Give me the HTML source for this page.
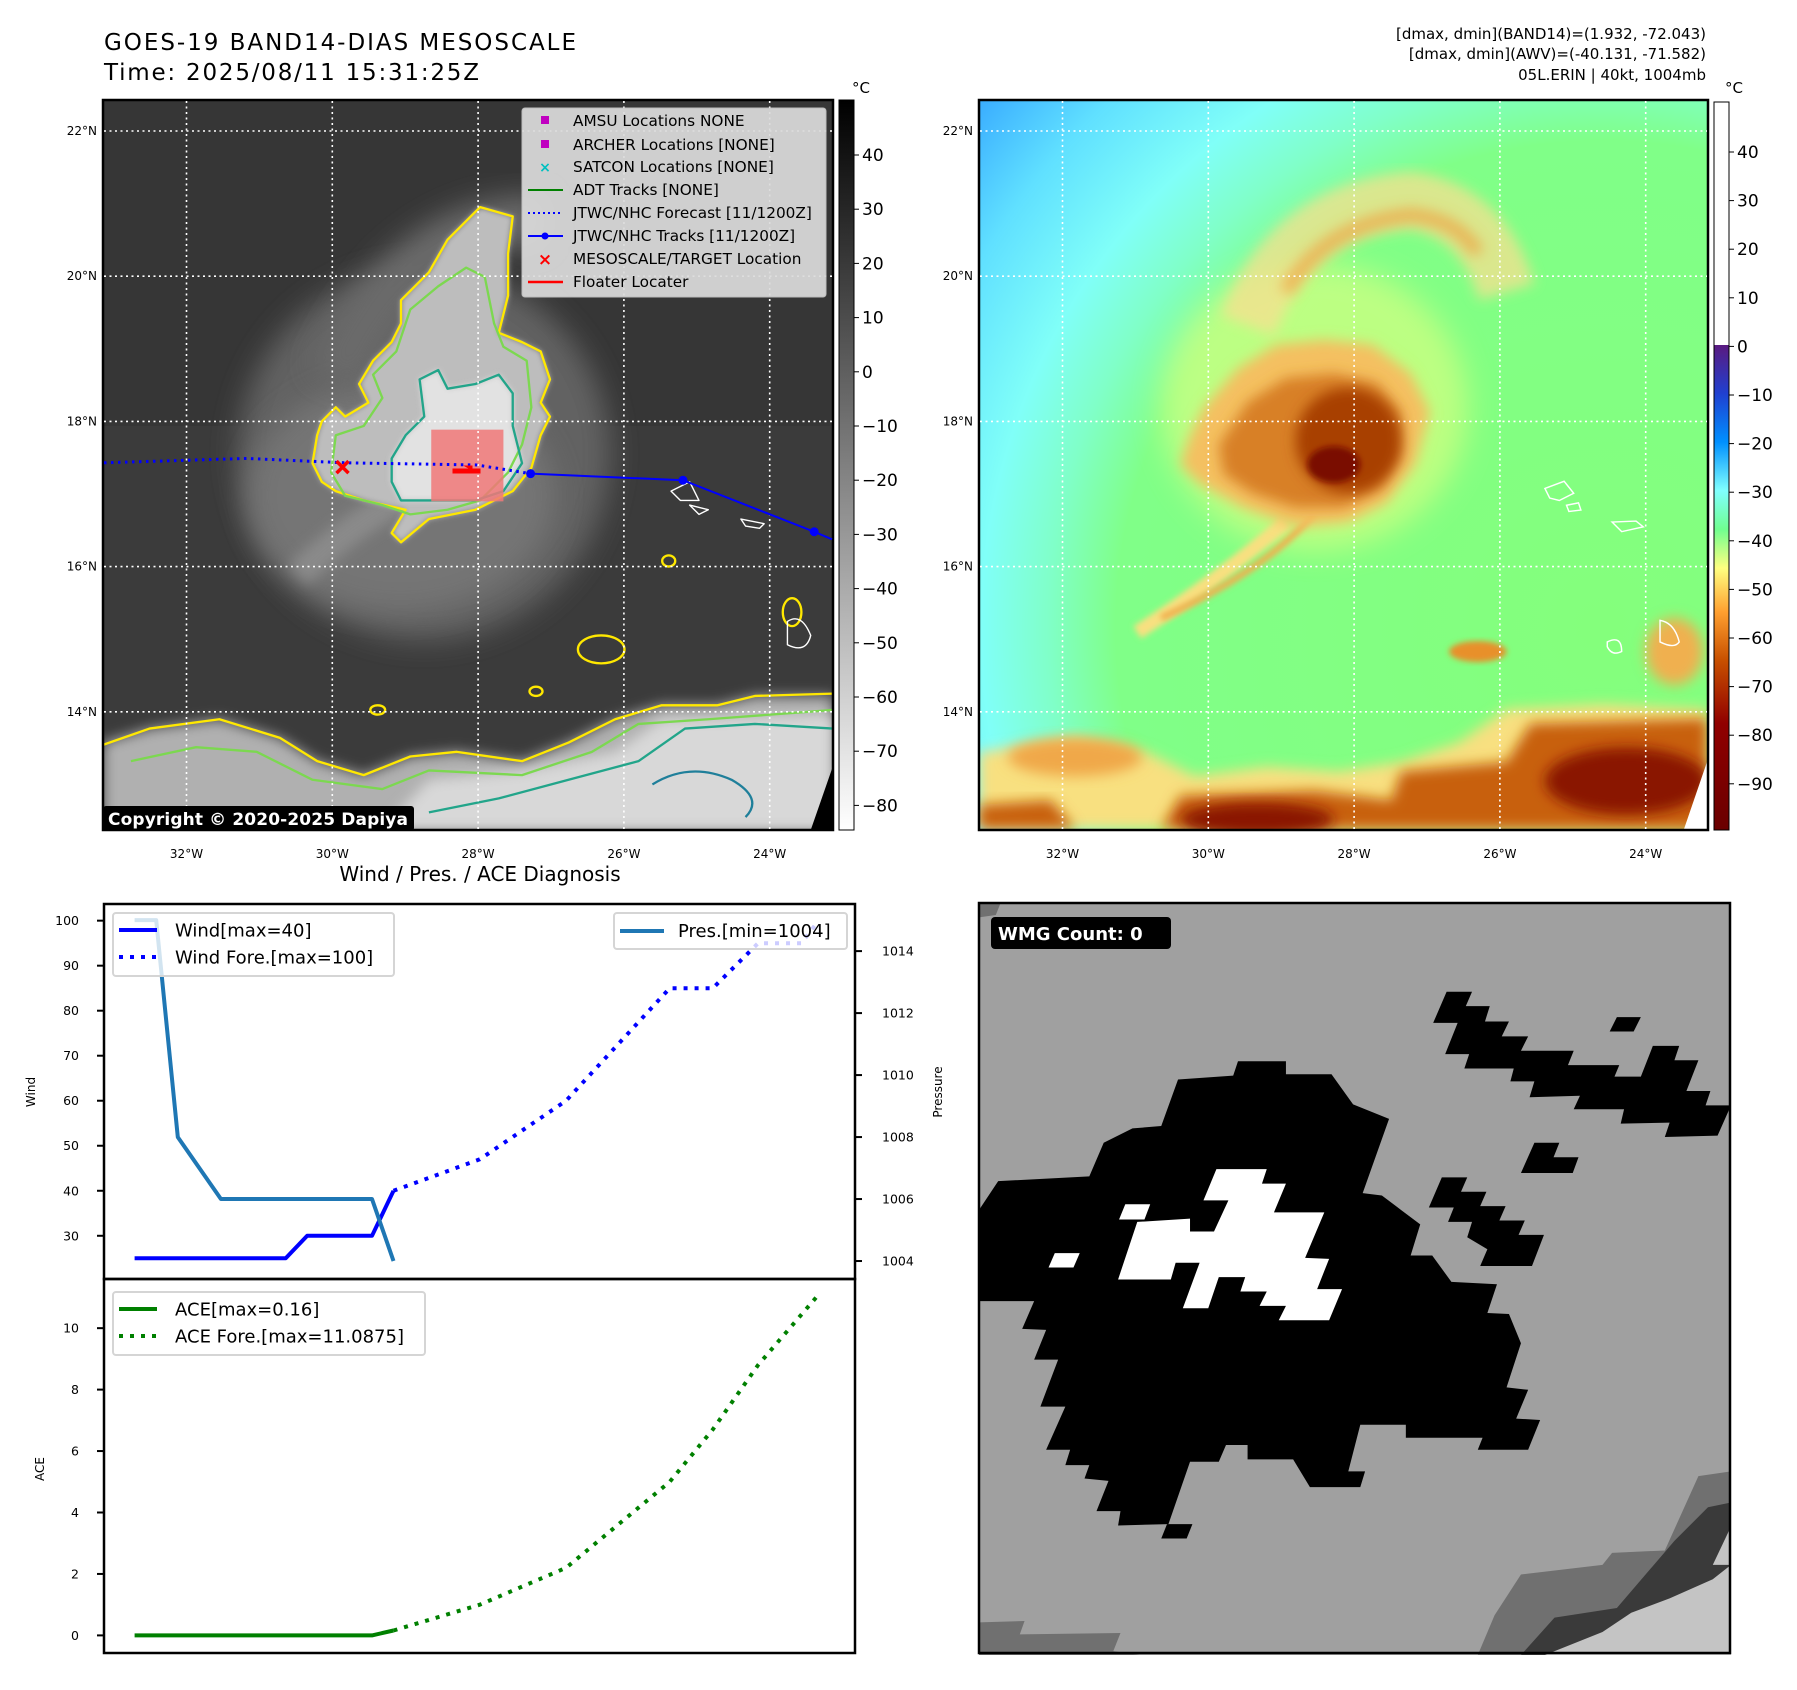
<!DOCTYPE html>
<html><head><meta charset="utf-8">
<style>
html,body{margin:0;padding:0;background:#fff;}
svg{display:block;font-family:"DejaVu Sans","Liberation Sans",sans-serif;}
</style></head>
<body>
<svg id="fig" width="1797" height="1690" viewBox="0 0 1797 1690" xmlns="http://www.w3.org/2000/svg">
<defs>
  <filter id="b6" x="-20%" y="-20%" width="140%" height="140%"><feGaussianBlur stdDeviation="6"/></filter>
  <filter id="b12" x="-30%" y="-30%" width="160%" height="160%"><feGaussianBlur stdDeviation="14"/></filter>
  <filter id="b25" x="-30%" y="-30%" width="160%" height="160%"><feGaussianBlur stdDeviation="30"/></filter>
  <clipPath id="clipL"><rect x="0" y="0" width="1568" height="1568"/></clipPath>
  <clipPath id="clipR"><rect x="0" y="0" width="1518" height="1520"/></clipPath>
  <clipPath id="clipW"><rect x="0" y="0" width="1568" height="1568"/></clipPath>
  <radialGradient id="bgR" gradientUnits="userSpaceOnUse" cx="1300" cy="1100" r="1750">
    <stop offset="0" stop-color="#84ff7c"/>
    <stop offset="0.58" stop-color="#80ff88"/>
    <stop offset="0.66" stop-color="#80ffc8"/>
    <stop offset="0.74" stop-color="#80fff8"/>
    <stop offset="0.86" stop-color="#60e0ff"/>
    <stop offset="1" stop-color="#30a0ff"/>
  </radialGradient>
  <linearGradient id="cbL" x1="0" y1="0" x2="0" y2="1">
    <stop offset="0" stop-color="#000"/><stop offset="1" stop-color="#fff"/>
  </linearGradient>
  <linearGradient id="cbR" x1="0" y1="0" x2="0" y2="1">
    <stop offset="0" stop-color="#5a1a80"/>
    <stop offset="0.1" stop-color="#2040d0"/>
    <stop offset="0.2" stop-color="#0090ff"/>
    <stop offset="0.3" stop-color="#80ffff"/>
    <stop offset="0.38" stop-color="#70ff90"/>
    <stop offset="0.46" stop-color="#ffff80"/>
    <stop offset="0.55" stop-color="#ffa030"/>
    <stop offset="0.65" stop-color="#c85000"/>
    <stop offset="0.78" stop-color="#900000"/>
    <stop offset="1" stop-color="#6a0000"/>
  </linearGradient>
</defs>

<!-- Titles -->
<text x="104" y="50" font-size="23" textLength="472">GOES-19 BAND14-DIAS MESOSCALE</text>
<text x="104" y="80" font-size="23" textLength="375">Time: 2025/08/11 15:31:25Z</text>
<text x="1706" y="39" font-size="15" text-anchor="end">[dmax, dmin](BAND14)=(1.932, -72.043)</text>
<text x="1706" y="59" font-size="15" text-anchor="end">[dmax, dmin](AWV)=(-40.131, -71.582)</text>
<text x="1706" y="80" font-size="15" text-anchor="end">05L.ERIN | 40kt, 1004mb</text>

<!-- LEFT MAP -->
<g>
<g transform="translate(103,100) scale(0.4656)" clip-path="url(#clipL)">
  <rect x="0" y="0" width="1568" height="1568" fill="#3b3b3b"/>
  <rect x="0" y="0" width="1568" height="700" fill="#363636"/>
  <ellipse cx="690" cy="760" rx="400" ry="400" fill="#626262" filter="url(#b25)"/>
  <ellipse cx="640" cy="850" rx="330" ry="250" fill="#747474" filter="url(#b25)"/>
  <path d="M420 1020 Q560 880 760 800" stroke="#8a8a8a" stroke-width="60" fill="none" filter="url(#b12)"/>
  <path d="M500 600 Q650 250 950 260" stroke="#6a6a6a" stroke-width="110" fill="none" filter="url(#b25)"/>
  <polygon points="0,1568 0,1380 100,1350 250,1330 380,1370 460,1420 560,1450 660,1410 760,1400 900,1420 1000,1380 1100,1330 1200,1300 1320,1300 1400,1280 1568,1280 1568,1568" fill="#b0b0b0" filter="url(#b12)"/>
  <polygon points="600,1568 700,1460 900,1440 1100,1400 1200,1330 1568,1320 1568,1568" fill="#d8d8d8" filter="url(#b12)"/>
  <polygon points="640,430 700,370 740,300 810,230 880,250 870,330 870,420 850,500 900,520 940,540 960,600 940,650 960,680 940,720 920,790 880,840 800,880 700,900 640,950 620,930 650,880 560,860 500,840 470,820 450,780 460,720 470,690 500,660 520,680 570,650 550,610 580,560 620,520 640,480" fill="#bdbdbd" filter="url(#b6)"/>
  <polygon points="680,600 720,580 740,620 800,610 850,590 880,630 880,700 900,780 860,840 800,860 700,860 640,860 620,820 620,770 650,720 690,680" fill="#e2e2e2" filter="url(#b6)"/>
  <g fill="none" stroke-width="5" stroke-linejoin="round">
    <polygon points="640,430 700,370 740,300 810,230 880,250 870,330 870,420 850,500 900,520 940,540 960,600 940,650 960,680 940,720 920,790 880,840 800,880 700,900 640,950 620,930 650,880 560,860 500,840 470,820 450,780 460,720 470,690 500,660 520,680 570,650 550,610 580,560 620,520 640,480" stroke="#ffe800"/>
    <polygon points="660,450 720,400 780,360 820,380 840,480 860,530 910,560 920,660 900,740 870,800 810,860 740,880 660,890 600,870 520,850 490,800 500,720 560,700 600,640 580,590 630,540" stroke="#7cd850"/>
    <polygon points="680,600 720,580 740,620 800,610 850,590 880,630 880,700 900,780 860,840 800,860 700,860 640,860 620,820 620,770 650,720 690,680" stroke="#22a58a"/>
    <path d="M0 1385 L100 1350 L250 1330 L380 1370 L460 1420 L560 1450 L660 1410 L760 1400 L900 1420 L1000 1380 L1100 1330 L1200 1300 L1320 1300 L1400 1280 L1568 1275" stroke="#ffe800"/>
    <path d="M60 1420 L200 1390 L330 1400 L450 1460 L600 1480 L700 1440 L900 1450 L1050 1400 L1150 1340 L1300 1330 L1568 1310" stroke="#7cd850"/>
    <path d="M700 1530 L850 1500 L1000 1460 L1150 1420 L1250 1350 L1400 1340 L1568 1350" stroke="#22a58a"/>
    <path d="M1180 1470 Q1260 1420 1350 1460 Q1420 1500 1380 1540" stroke="#1f7f9a"/>
    <ellipse cx="1070" cy="1180" rx="50" ry="30" stroke="#ffe800"/>
    <ellipse cx="1215" cy="990" rx="14" ry="12" stroke="#ffe800"/>
    <ellipse cx="930" cy="1270" rx="14" ry="10" stroke="#ffe800"/>
    <ellipse cx="590" cy="1310" rx="16" ry="10" stroke="#ffe800"/>
    <ellipse cx="1480" cy="1100" rx="20" ry="30" stroke="#ffe800"/>
    <path d="M1220 840 L1260 820 L1280 860 L1240 860 Z M1260 870 L1300 880 L1280 890 Z M1370 900 L1420 910 L1410 920 L1380 915 Z" stroke="#ffffff" stroke-width="3"/>
    <path d="M1470 1120 Q1500 1100 1520 1150 Q1510 1190 1470 1170 Z" stroke="#ffffff" stroke-width="3"/>
  </g>
  <polygon points="1520,1568 1568,1430 1568,1568" fill="#000"/>
  <rect x="705" y="708" width="155" height="154" fill="#f07878" opacity="0.85"/>
</g>
<rect x="103" y="100" width="730" height="730" fill="none" stroke="#000" stroke-width="2.5"/>
</g>
<g id="gridL" stroke="#fff" stroke-width="1.6" stroke-dasharray="2 3.5"></g>
<g id="trackL"></g>
<rect x="103" y="806" width="311" height="25" rx="3" fill="#000"/>
<text x="108" y="825" font-size="17" font-weight="bold" fill="#fff" textLength="300">Copyright © 2020-2025 Dapiya</text>

<!-- Map legend -->
<g>
  <rect x="522" y="108" width="304" height="189" rx="3" fill="#dcdcdc" opacity="0.92" stroke="#c8c8c8"/>
  <g font-size="15.3" fill="#000">
    <rect x="541" y="116" width="8" height="8" fill="#c000c0"/><text x="573" y="126">AMSU Locations NONE</text>
    <rect x="541" y="140" width="8" height="8" fill="#c000c0"/><text x="573" y="150">ARCHER Locations [NONE]</text>
    <text x="545" y="172" font-size="14" fill="#00c0c0" text-anchor="middle" font-weight="bold">×</text><text x="573" y="172">SATCON Locations [NONE]</text>
    <line x1="528" y1="190" x2="563" y2="190" stroke="#008000" stroke-width="2"/><text x="573" y="195">ADT Tracks [NONE]</text>
    <line x1="528" y1="213" x2="563" y2="213" stroke="#0000ff" stroke-width="2" stroke-dasharray="2 3"/><text x="573" y="218">JTWC/NHC Forecast [11/1200Z]</text>
    <line x1="528" y1="236" x2="563" y2="236" stroke="#0000ff" stroke-width="2"/><circle cx="545" cy="236" r="3.5" fill="#0000ff"/><text x="573" y="241">JTWC/NHC Tracks [11/1200Z]</text>
    <text x="545" y="265" font-size="17" fill="#ff0000" text-anchor="middle" font-weight="bold">×</text><text x="573" y="264">MESOSCALE/TARGET Location</text>
    <line x1="528" y1="282" x2="563" y2="282" stroke="#ff0000" stroke-width="2.5"/><text x="573" y="287">Floater Locater</text>
  </g>
</g>

<!-- Left colorbar -->
<rect x="839" y="100" width="15" height="730" fill="url(#cbL)" stroke="#000" stroke-width="1"/>
<text x="852" y="93" font-size="15">°C</text>
<g id="cbLticks" font-size="17"></g>

<!-- RIGHT MAP -->
<g>
<g transform="translate(979,100) scale(0.4796)" clip-path="url(#clipR)">
  <rect x="0" y="0" width="1518" height="1520" fill="url(#bgR)"/>
  <ellipse cx="700" cy="640" rx="320" ry="300" fill="#f8ff80" opacity="0.5" filter="url(#b25)"/>
  <path d="M560 470 Q650 230 900 210 Q1050 230 1100 400" stroke="#f8e090" stroke-width="120" fill="none" filter="url(#b12)" opacity="0.75"/>
  <path d="M640 400 Q720 260 900 240 Q1000 250 1040 320" stroke="#f0a040" stroke-width="30" fill="none" filter="url(#b12)" opacity="0.7"/>
  <path d="M640 880 Q500 1000 330 1110" stroke="#f8e080" stroke-width="30" fill="none" filter="url(#b6)"/>
  <path d="M700 860 Q600 980 380 1080" stroke="#f0b050" stroke-width="14" fill="none" filter="url(#b6)"/>
  <polygon points="440,700 470,640 540,560 620,510 720,500 820,510 900,570 940,650 910,760 850,840 770,880 660,890 550,850 460,800 420,760" fill="#f4c060" filter="url(#b12)"/>
  <polygon points="500,720 560,630 640,580 740,570 830,590 880,650 880,740 840,810 760,850 660,850 570,820 510,780" fill="#d88028" filter="url(#b12)"/>
  <ellipse cx="770" cy="710" rx="110" ry="110" fill="#a84000" filter="url(#b12)"/>
  <ellipse cx="740" cy="760" rx="55" ry="38" fill="#7a1000" filter="url(#b6)"/>
  <polygon points="0,1520 0,1360 200,1330 350,1360 450,1410 600,1390 750,1400 880,1380 1000,1340 1100,1270 1300,1260 1518,1270 1518,1520" fill="#f8e080" filter="url(#b12)"/>
  <polygon points="380,1520 420,1450 700,1440 860,1460 880,1400 1100,1380 1150,1300 1518,1290 1518,1520" fill="#c86010" filter="url(#b12)"/>
  <polygon points="0,1520 0,1470 150,1460 200,1520" fill="#c86010" filter="url(#b12)"/>
  <ellipse cx="1350" cy="1420" rx="170" ry="70" fill="#8a1800" filter="url(#b12)"/>
  <ellipse cx="580" cy="1500" rx="160" ry="35" fill="#8a1800" filter="url(#b12)"/>
  <ellipse cx="1450" cy="1150" rx="60" ry="70" fill="#f0b050" filter="url(#b12)"/>
  <ellipse cx="1040" cy="1150" rx="60" ry="22" fill="#e8902a" filter="url(#b6)"/>
  <ellipse cx="200" cy="1370" rx="140" ry="40" fill="#f0a848" filter="url(#b12)"/>
  <polygon points="1470,1520 1518,1380 1518,1520" fill="#fff"/>
  <g fill="none" stroke="#fff" stroke-width="3">
    <path d="M1180 810 L1220 795 L1240 820 L1210 835 L1190 830 Z"/>
    <path d="M1225 845 L1250 840 L1255 855 L1230 858 Z"/>
    <path d="M1320 880 L1370 878 L1385 890 L1340 900 Z"/>
    <path d="M1420 1085 Q1450 1090 1460 1130 Q1450 1145 1420 1130 Z"/>
    <path d="M1310 1130 Q1340 1115 1340 1150 Q1320 1160 1310 1140 Z"/>
  </g>
</g>
<rect x="979" y="100" width="729" height="730" fill="none" stroke="#000" stroke-width="2.5"/>
</g>
<g id="gridR" stroke="#fff" stroke-width="1.6" stroke-dasharray="2 3.5"></g>

<!-- Right colorbar -->
<rect x="1714" y="102" width="15" height="243" fill="#fff"/>
<rect x="1714" y="345" width="15" height="485" fill="url(#cbR)"/>
<rect x="1714" y="102" width="15" height="728" fill="none" stroke="#000" stroke-width="1"/>
<text x="1725" y="93" font-size="15">°C</text>
<g id="cbRticks" font-size="17"></g>

<!-- Lon/Lat labels -->
<g id="mapLabels" font-size="12"></g>

<!-- Diagnosis chart -->
<text x="480" y="881" font-size="20" text-anchor="middle">Wind / Pres. / ACE Diagnosis</text>
<g id="chart"></g>

<!-- WMG panel -->
<g>
<g transform="translate(979,903) scale(0.4796)" clip-path="url(#clipW)">
  <rect x="0" y="0" width="1568" height="1568" fill="#a0a0a0"/>
  <polygon points="0,0 45,0 35,25 0,30" fill="#707070"/>
  <polygon points="0,1568 0,1500 95,1497 85,1525 295,1522 280,1560 335,1568" fill="#707070"/>
  <polygon points="1040,1568 1075,1485 1130,1400 1300,1380 1320,1355 1430,1350 1500,1195 1568,1185 1568,1568" fill="#707070"/>
  <polygon points="1130,1568 1200,1490 1330,1470 1450,1330 1520,1260 1568,1250 1568,1568" fill="#3a3a3a"/>
  <polygon points="1180,1568 1300,1520 1360,1480 1440,1450 1530,1410 1568,1380 1568,1568" fill="#c4c4c4"/>
  <polygon points="1530,1380 1568,1300 1568,1380" fill="#c4c4c4"/>
  <g fill="#000">
    <polygon points="0,640 40,580 230,570 260,500 320,470 380,465 415,368 530,360 540,330 640,330 640,357 735,357 780,420 855,450 800,605 840,610 880,640 920,670 900,735 945,735 985,790 1080,795 1060,855 1105,857 1130,918 1100,1010 1145,1015 1120,1075 1170,1078 1145,1140 1040,1140 1050,1115 890,1115 890,1088 795,1088 770,1185 805,1185 795,1218 690,1218 655,1160 560,1160 560,1130 515,1130 500,1165 440,1165 395,1295 290,1298 295,1268 245,1268 270,1205 220,1200 230,1172 180,1172 190,1140 140,1140 180,1050 128,1050 165,952 115,952 140,890 90,888 115,830 0,830"/>
    <polygon points="947,250 975,185 1028,185 1015,215 1065,215 1055,247 1105,247 1090,278 1145,278 1130,308 1240,308 1228,338 1335,338 1325,362 1380,362 1405,298 1460,298 1450,328 1500,328 1475,392 1525,392 1515,422 1568,422 1540,485 1430,488 1440,458 1338,460 1345,430 1240,430 1253,402 1148,405 1158,372 1108,372 1115,345 1012,345 1022,315 972,315 998,250"/>
    <polygon points="1315,268 1330,238 1380,238 1365,268"/>
    <polygon points="1130,563 1158,500 1210,500 1198,530 1250,530 1238,563"/>
    <polygon points="938,635 965,572 1018,572 1005,602 1058,602 1045,632 1098,632 1085,662 1138,662 1125,692 1178,692 1153,757 1045,757 1060,722 1018,697 1028,665 978,665 990,635"/>
    <polygon points="380,1325 392,1295 445,1295 433,1325"/>
  </g>
  <g fill="#fff">
    <polygon points="290,785 330,665 440,658 440,685 490,685 520,620 468,620 495,555 600,555 590,585 640,585 615,645 720,645 680,740 730,742 705,805 757,805 730,870 625,870 640,840 585,840 600,810 545,810 555,780 500,780 478,845 425,845 460,750 410,750 400,785"/>
    <polygon points="145,760 158,730 210,730 197,760"/>
    <polygon points="292,660 305,628 357,628 345,660"/>
  </g>
</g>
<rect x="979" y="903" width="751" height="750" fill="none" stroke="#000" stroke-width="2.5"/>
<rect x="991" y="917" width="180" height="32" rx="4" fill="#000"/>
<text x="998" y="940" font-size="18" font-weight="bold" fill="#fff">WMG Count: 0</text>
</g>

<script>
// ===== Chart data =====
const windObsT = [0,1,2,3,4,5,6,7,8,9,10,11,12];
const windObs = [25,25,25,25,25,25,25,25,30,30,30,30,40];
const windFcT = [12,16,20,24.8,26.8,28.9,30.9,31.7];
const windFc = [40,47,60,85,85,95,95,100];
const presT = [0,1,2,4,11,12];
const presVals = [1015,1015,1008,1006,1006,1004];
const aceObsT = [0,11,12];
const aceObs = [0,0,0.16];
const aceFcT = [12,16,20,24.8,26.8,28.9,31.7];
const aceFc = [0.16,1.0,2.2,5.0,6.7,8.8,11.09];
const windTicks = [30,40,50,60,70,80,90,100];
const presTicks = [1004,1006,1008,1010,1012,1014];
const aceTicks = [0,2,4,6,8,10];
// ===== Map data =====
const lonTicks = [32,30,28,26,24];
const latTicks = [22,20,18,16,14];
const fcLon = [33.3,31.17,29.83,28.02,27.28];
const fcLat = [17.43,17.49,17.43,17.40,17.28];
const trkLon = [27.28,25.19,23.39,22.8];
const trkLat = [17.28,17.19,16.48,16.23];
const targetLon = 29.86, targetLat = 17.37;
const cbLTicks = [40,30,20,10,0,-10,-20,-30,-40,-50,-60,-70,-80];
const cbRTicks = [40,30,20,10,0,-10,-20,-30,-40,-50,-60,-70,-80,-90];

const NS = 'http://www.w3.org/2000/svg';
function mk(tag, attrs, parent, txt){
  const e = document.createElementNS(NS, tag);
  for (const k in attrs) e.setAttribute(k, attrs[k]);
  if (txt !== undefined) e.textContent = txt;
  parent.appendChild(e);
  return e;
}
const mapX = w => 186.5 + (32 - w) * 72.9;
const mapY = n => 131 + (22 - n) * 72.6;

const gL = document.getElementById('gridL'), gR = document.getElementById('gridR');
const labels = document.getElementById('mapLabels');
lonTicks.forEach(w => {
  const x = mapX(w);
  const l1 = mk('line', {x1:x, y1:101, x2:x, y2:829}, gL);
  
  
  const l2 = mk('line', {x1:x+876, y1:101, x2:x+876, y2:829}, gR);
  
  
  [0, 876].forEach(off => {
    const t = mk('text', {x:x+off, y:858, 'text-anchor':'middle'}, labels, w + '°W');
    
    
  });
});
latTicks.forEach(n => {
  const y = mapY(n);
  const l1 = mk('line', {x1:104, y1:y, x2:832, y2:y}, gL);
  
  
  const l2 = mk('line', {x1:980, y1:y, x2:1707, y2:y}, gR);
  
  
  [0, 876].forEach(off => {
    const t = mk('text', {x:97+off, y:y+4, 'text-anchor':'end'}, labels, n + '°N');
    
    
  });
});

const tr = document.getElementById('trackL');
const fcPts = fcLon.map((w,i) => Math.max(104, mapX(w)) + ',' + mapY(fcLat[i])).join(' ');
const fcLine = mk('polyline', {points: fcPts, fill:'none', stroke:'#0000ff', 'stroke-width':3, 'stroke-dasharray':'2.5 4.5'}, tr);


const trPts = trkLon.map((w,i) => Math.min(832, mapX(w)) + ',' + (mapX(w) > 832 ? mapY(trkLat[i-1]) + (mapY(trkLat[i]) - mapY(trkLat[i-1])) * (832 - mapX(trkLon[i-1])) / (mapX(w) - mapX(trkLon[i-1])) : mapY(trkLat[i]))).join(' ');
const trLine = mk('polyline', {points: trPts, fill:'none', stroke:'#0000ff', 'stroke-width':2}, tr);


trkLon.slice(0,3).forEach((w,i) => {
  const c = mk('circle', {cx:mapX(w), cy:mapY(trkLat[i]), r:4.5, fill:'#0000ff'}, tr);
  
  
});
const tx = mapX(targetLon), ty = mapY(targetLat);
const xm = mk('path', {d:`M${tx-6} ${ty-6} L${tx+6} ${ty+6} M${tx+6} ${ty-6} L${tx-6} ${ty+6}`, stroke:'#ff0000', 'stroke-width':3.5}, tr);


const fl = mk('path', {d:'M453 469 L480 469 L480 473 L453 473 Z M465 466 L472 466 L472 470 Z', fill:'#ff0000', stroke:'#ff0000', 'stroke-width':1}, tr);



const cbl = document.getElementById('cbLticks');
cbLTicks.forEach(v => {
  const y = 155 + (40 - v) * 5.42;
  mk('line', {x1:854, y1:y, x2:859, y2:y, stroke:'#000'}, cbl);
  const t = mk('text', {x:862, y:y+6}, cbl, v < 0 ? '\u2212' + (-v) : String(v));
  
  
});
const cbr = document.getElementById('cbRticks');
cbRTicks.forEach(v => {
  const y = 152 + (40 - v) * 4.86;
  mk('line', {x1:1729, y1:y, x2:1734, y2:y, stroke:'#000'}, cbr);
  const t = mk('text', {x:1737, y:y+6}, cbr, v < 0 ? '\u2212' + (-v) : String(v));
  
  
});

// ===== Diagnosis chart =====
const CX0 = 104, CX1 = 855, TOP = 904, MID = 1279, BOT = 1653;
const tMin = -1.42, tMax = 33.39;
const xS = t => CX0 + (t - tMin) / (tMax - tMin) * (CX1 - CX0);
const wMax = 103.7, wMin = 20.4;
const yW = v => TOP + (wMax - v) / (wMax - wMin) * (MID - TOP);
const pMax = 1015.52, pMin = 1003.42;
const yP = v => TOP + (pMax - v) / (pMax - pMin) * (MID - TOP);
const aMax = 11.6, aMin = -0.573;
const yA = v => MID + (aMax - v) / (aMax - aMin) * (BOT - MID);

const ch = document.getElementById('chart');
function line(ts, vs, yf, color, dash, name){
  const pts = ts.map((t,i) => xS(t).toFixed(1) + ',' + yf(vs[i]).toFixed(1)).join(' ');
  const a = {points: pts, fill:'none', stroke:color, 'stroke-width':4, 'stroke-linejoin':'round'};
  if (dash) a['stroke-dasharray'] = dash;
  const p = mk('polyline', a, ch);
  
  
}
mk('rect', {x:CX0, y:TOP, width:CX1-CX0, height:BOT-TOP, fill:'#fff'}, ch);
line(windFcT, windFc, yW, '#0000ff', '4 7', 'wind-forecast-line');
line(windObsT, windObs, yW, '#0000ff', null, 'wind-line');
line(presT, presVals, yP, '#1f77b4', null, 'pressure-line');
line(aceFcT, aceFc, yA, '#008000', '4 7', 'ace-forecast-line');
line(aceObsT, aceObs, yA, '#008000', null, 'ace-line');

mk('rect', {x:CX0, y:TOP, width:CX1-CX0, height:MID-TOP, fill:'none', stroke:'#000', 'stroke-width':2.5}, ch);
mk('rect', {x:CX0, y:MID, width:CX1-CX0, height:BOT-MID, fill:'none', stroke:'#000', 'stroke-width':2.5}, ch);
windTicks.forEach(v => {
  const y = yW(v);
  mk('line', {x1:CX0-7, y1:y, x2:CX0, y2:y, stroke:'#000', 'stroke-width':2}, ch);
  const t = mk('text', {x:79, y:y+4.5, 'text-anchor':'end', 'font-size':12.5}, ch, String(v));
  
  
});
presTicks.forEach(v => {
  const y = yP(v);
  mk('line', {x1:CX1, y1:y, x2:CX1+7, y2:y, stroke:'#000', 'stroke-width':2}, ch);
  const t = mk('text', {x:882, y:y+4.5, 'font-size':12.5}, ch, String(v));
  
  
});
aceTicks.forEach(v => {
  const y = yA(v);
  mk('line', {x1:CX0-7, y1:y, x2:CX0, y2:y, stroke:'#000', 'stroke-width':2}, ch);
  const t = mk('text', {x:79, y:y+4.5, 'text-anchor':'end', 'font-size':12.5}, ch, String(v));
  
  
});
const yl1 = mk('text', {x:0, y:0, transform:'translate(35,1092) rotate(-90)', 'text-anchor':'middle', 'font-size':12}, ch, 'Wind');


const yl2 = mk('text', {x:0, y:0, transform:'translate(942,1092) rotate(-90)', 'text-anchor':'middle', 'font-size':12}, ch, 'Pressure');


const yl3 = mk('text', {x:0, y:0, transform:'translate(44,1469) rotate(-90)', 'text-anchor':'middle', 'font-size':12}, ch, 'ACE');



function legend(x, y, w, h, entries, name){
  const g = mk('g', {}, ch);
  
  
  mk('rect', {x:x, y:y, width:w, height:h, rx:3, fill:'#fff', 'fill-opacity':0.8, stroke:'#d5d5d5', 'stroke-width':2}, g);
  entries.forEach((e, i) => {
    const cy = y + 17 + i * 27;
    const a = {x1:x+6, y1:cy, x2:x+44, y2:cy, stroke:e[1], 'stroke-width':4};
    if (e[2]) a['stroke-dasharray'] = '4 7';
    mk('line', a, g);
    mk('text', {x:x+62, y:cy+6.5, 'font-size':18}, g, e[0]);
  });
}
legend(113, 913, 281, 63, [['Wind[max=40]','#0000ff',false],['Wind Fore.[max=100]','#0000ff',true]], 'wind-legend');
legend(113, 1292, 312, 63, [['ACE[max=0.16]','#008000',false],['ACE Fore.[max=11.0875]','#008000',true]], 'ace-legend');
</script>
<g>
  <rect x="614" y="913" width="233" height="36" rx="3" fill="#fff" fill-opacity="0.8" stroke="#d5d5d5" stroke-width="2"/>
  <line x1="620" y1="931" x2="664" y2="931" stroke="#1f77b4" stroke-width="4"/>
  <text x="678" y="937" font-size="18">Pres.[min=1004]</text>
</g>
</svg>
</body></html>
